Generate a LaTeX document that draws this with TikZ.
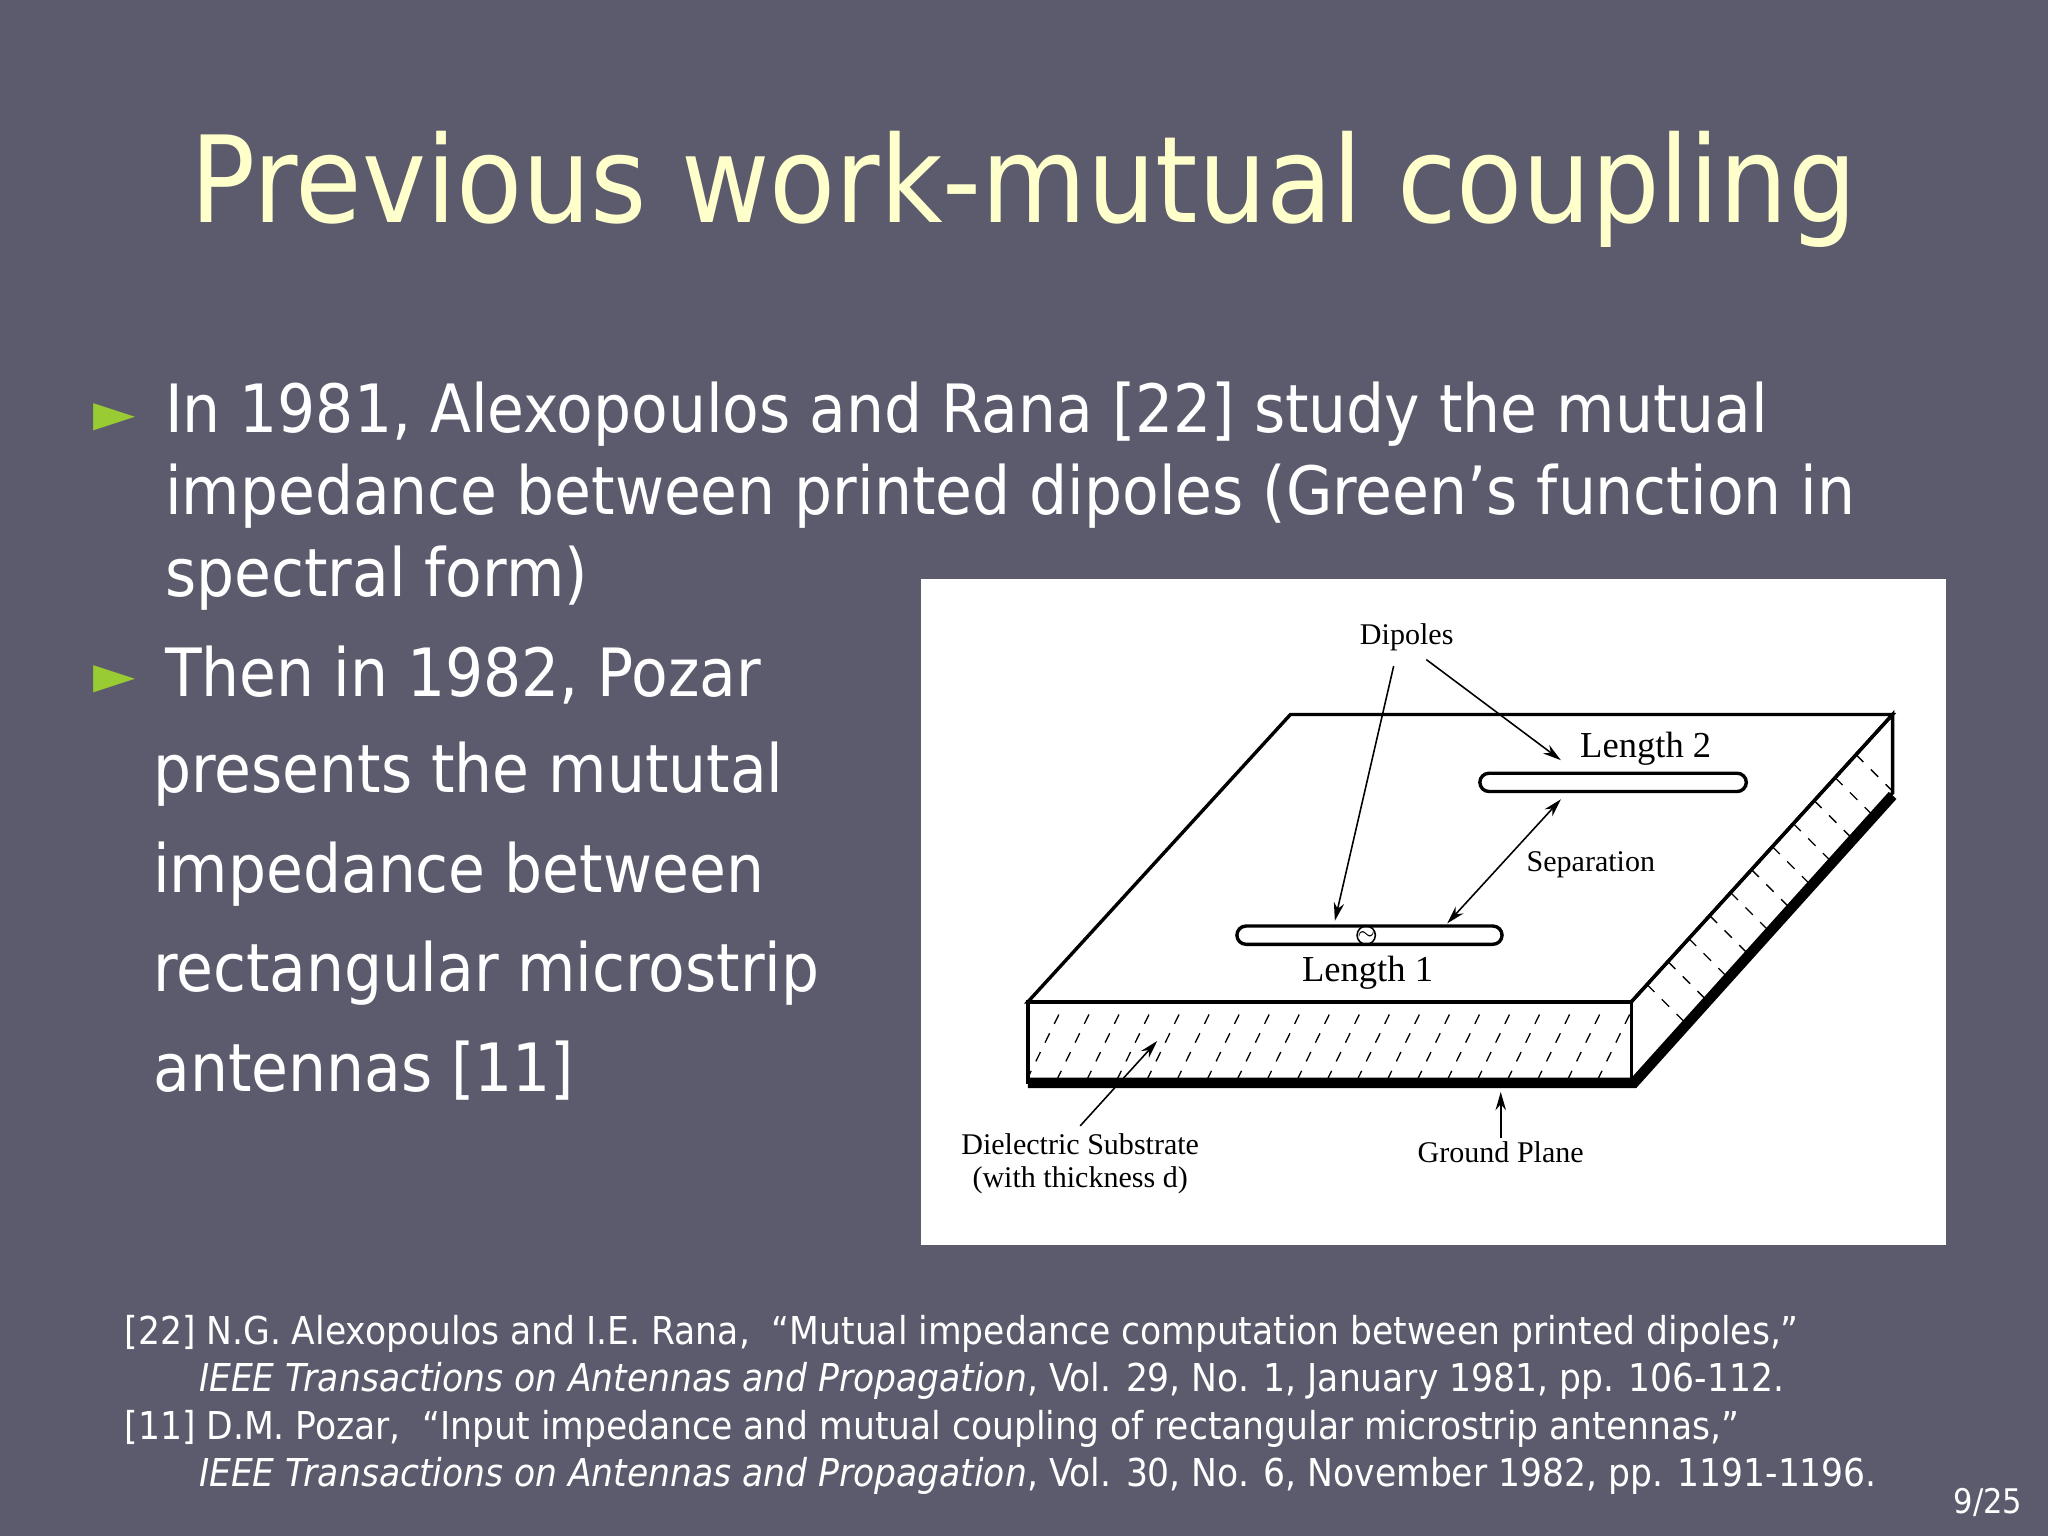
\documentclass[tikz,border=0pt]{standalone}
\usepackage{fontspec}
\setmainfont{DejaVu Sans}
\newfontfamily\serif{Liberation Serif}
\newfontfamily\cond{DejaVu Sans Condensed}
\usetikzlibrary{arrows.meta,calc}
\definecolor{bg}{HTML}{5B5B6D}
\definecolor{ttl}{HTML}{FFFFCC}
\definecolor{bul}{HTML}{99CC33}
\tikzset{
 body/.style={anchor=west,text=white,font=\cond\fontsize{25.5}{30}\selectfont,inner sep=0},
 ref/.style={anchor=west,text=white,font=\cond\fontsize{14.7}{17}\selectfont,inner sep=0},
 lab/.style={font=\serif\fontsize{11.5}{13}\selectfont,inner sep=1pt,align=center},
 arr/.style={-{Stealth[length=7pt,width=4pt]},line width=0.6pt},
 rod/.style={draw,line width=1.3pt,rounded corners=3.5pt,fill=white}
}
\begin{document}
\begin{tikzpicture}[x=0.5pt,y=-0.5pt]
\fill[bg] (0,0) rectangle (1568,1176);
\node[text=ttl,font=\cond\fontsize{46}{56}\selectfont] (title) at (784,145) {Previous work-mutual coupling};
\node[text=bul,font=\fontsize{21}{21}\selectfont] (b1) at (88,320) {►};
\node[text=bul,font=\fontsize{21}{21}\selectfont] (b2) at (88,520) {►};
\node[body] (t1) at (126,317) {In 1981, Alexopoulos and Rana [22] study the mutual};
\node[body] (t2) at (126,380) {impedance between printed dipoles (Green’s function in};
\node[body] (t3) at (126,443) {spectral form)};
\node[body] (t4) at (126,517) {Then in 1982, Pozar};
\node[body] (t5) at (117,593) {presents the mututal};
\node[body] (t6) at (117,669) {impedance between};
\node[body] (t7) at (117,745) {rectangular microstrip};
\node[body] (t8) at (117,820) {antennas [11]};
% figure
\fill[white] (705,443) rectangle (1490,953);
\draw[line width=1.3pt,fill=white] (988,547) -- (1449,547) -- (1249,767) -- (787,767) -- cycle;
\draw[line width=1.3pt] (787,767) rectangle (1249,829);
\draw[line width=1.3pt] (1249,767) -- (1449,547) -- (1449,607) -- (1249,829);
\draw[line width=4pt] (787,829) -- (1251,829) -- (1449,609);
\foreach \x in {800,823,...,1245}{\draw[line width=0.5pt,dash pattern=on 4pt off 4pt] (\x-14,827) -- (\x+14,770);}
\foreach \t in {0.06,0.14,...,0.87}{\draw[line width=0.5pt,dash pattern=on 4pt off 4pt] ($(1249,767)!\t!(1449,547)$) -- ++(28,28);}
\draw[rod] (947,709) rectangle (1150,723);
\draw[rod] (1133,592) rectangle (1337,606);
\node[font=\fontsize{8}{8}\selectfont,inner sep=0] (src) at (1046,716) {$\sim$};
\draw[line width=0.6pt] (src) circle (3.5pt);
\node[lab] (dip) at (1077,488) {Dipoles};
\node[lab,font=\serif\fontsize{14}{16}\selectfont] (l2) at (1260,573) {Length 2};
\node[lab] (sep) at (1218,662) {Separation};
\node[lab,font=\serif\fontsize{14}{16}\selectfont] (l1) at (1047,745) {Length 1};
\node[lab] (diel) at (827,891) {Dielectric Substrate\\(with thickness d)};
\node[lab] (gp) at (1149,882) {Ground Plane};
\coordinate (d1) at (1022,705); \coordinate (d2) at (1195,582);
\coordinate (s1) at (1108,707); \coordinate (s2) at (1195,612);
\coordinate (de) at (886,797); \coordinate (g) at (1149,836);
\draw[arr] (1067,510) -- (d1);
\draw[arr] (1092,505) -- (d2);
\draw[arr,{Stealth[length=7pt,width=4pt]}-{Stealth[length=7pt,width=4pt]}] (s1) -- (s2);
\draw[arr] (827,862) -- (de);
\draw[arr] (gp.north) -- (g);
% references
\node[ref] (r1) at (95,1021) {[22] N.G. Alexopoulos and I.E. Rana,\ \ “Mutual impedance computation between printed dipoles,”};
\node[ref] (r2) at (152,1057) {\textit{IEEE Transactions on Antennas and Propagation}, Vol. 29, No. 1, January 1981, pp. 106-112.};
\node[ref] (r3) at (95,1094) {[11] D.M. Pozar,\ \ “Input impedance and mutual coupling of rectangular microstrip antennas,”};
\node[ref] (r4) at (152,1130) {\textit{IEEE Transactions on Antennas and Propagation}, Vol. 30, No. 6, November 1982, pp. 1191-1196.};
\node[text=white,font=\cond\fontsize{13}{15}\selectfont] (pg) at (1522,1150) {9/25};
\end{tikzpicture}
\end{document}
